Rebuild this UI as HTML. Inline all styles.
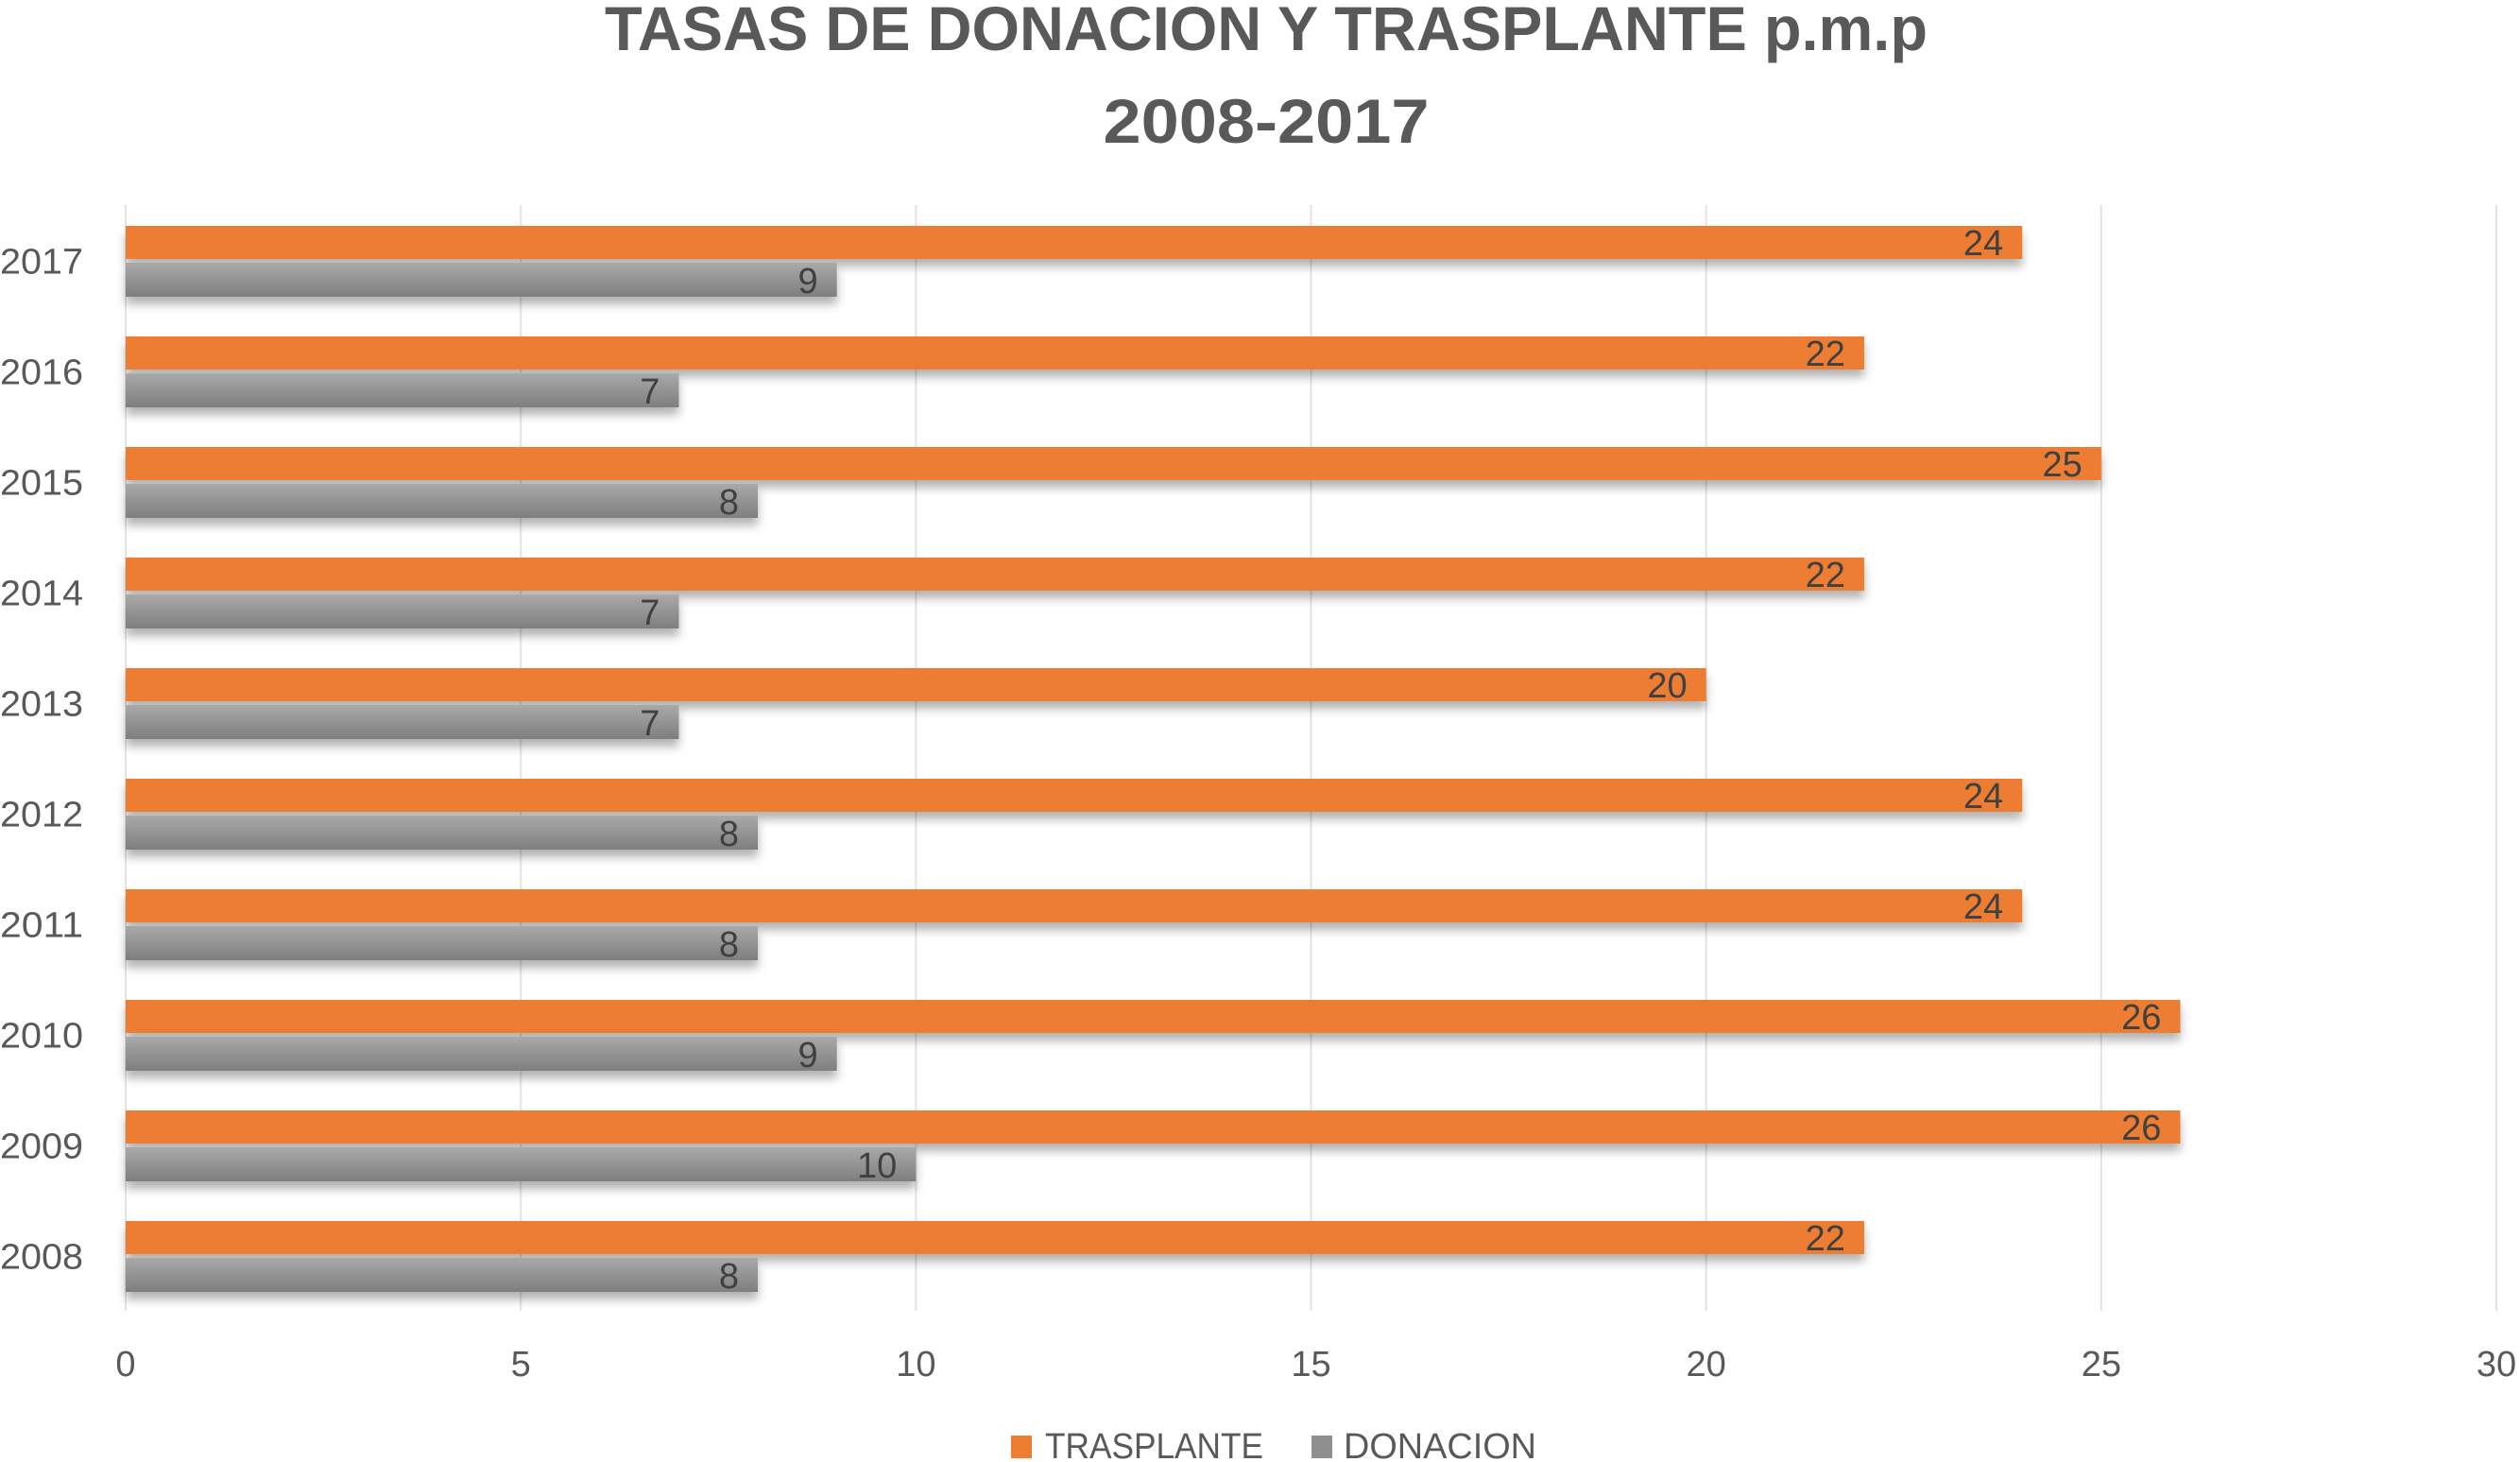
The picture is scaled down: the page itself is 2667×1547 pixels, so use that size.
<!DOCTYPE html>
<html><head><meta charset="utf-8"><style>
html,body{margin:0;padding:0;background:#fff}
svg{display:block;font-family:"Liberation Sans",sans-serif}
</style></head><body>
<svg id="chart" width="2667" height="1547" viewBox="0 0 2667 1547" xmlns="http://www.w3.org/2000/svg">
<defs>
<linearGradient id="gg" x1="0" y1="0" x2="0" y2="1"><stop offset="0" stop-color="#a9a9a9"/><stop offset="1" stop-color="#7e7e7e"/></linearGradient>
<filter id="sh" x="-5%" y="-30%" width="110%" height="180%"><feDropShadow dx="0" dy="8" stdDeviation="5" flood-color="#000" flood-opacity="0.3"/></filter>
</defs>
<text x="1340" y="53" text-anchor="middle" font-size="66" font-weight="bold" fill="#595959" textLength="1400" lengthAdjust="spacingAndGlyphs">TASAS DE DONACION Y TRASPLANTE p.m.p</text>
<text x="1340" y="151" text-anchor="middle" font-size="66" font-weight="bold" fill="#595959" textLength="345" lengthAdjust="spacingAndGlyphs">2008-2017</text>
<g id="grid"></g><g id="bars"></g><g id="labels"></g>
<g>
<rect x="1070" y="1519" width="22" height="24" fill="#ED7D31"/>
<text x="1106" y="1543" font-size="38" fill="#595959" textLength="231" lengthAdjust="spacingAndGlyphs">TRASPLANTE</text>
<rect x="1388" y="1519" width="22" height="24" fill="#8f8f8f"/>
<text x="1422" y="1543" font-size="38" fill="#595959" textLength="204" lengthAdjust="spacingAndGlyphs">DONACION</text>
</g>
</svg>
<script>
const years = ["2017","2016","2015","2014","2013","2012","2011","2010","2009","2008"];
const trasplante = [24,22,25,22,20,24,24,26,26,22];
const donacion = [9,7,8,7,7,8,8,9,10,8];
const ticks = [0,5,10,15,20,25,30];
const NS="http://www.w3.org/2000/svg";
const X0=133,X1=2642,XMAX=30,TOP=217,BOT=1387;
const band=(BOT-TOP)/years.length;
const x=v=>X0+(X1-X0)*v/XMAX;
function mk(t,a,p){const e=document.createElementNS(NS,t);for(const k in a)e.setAttribute(k,a[k]);p.appendChild(e);return e;}
const grid=document.getElementById('grid'),bars=document.getElementById('bars'),labels=document.getElementById('labels');
ticks.forEach(t=>{
  const l=mk('line',{x1:x(t),x2:x(t),y1:TOP,y2:BOT,stroke:'#e3e3e3','stroke-width':2},grid);
  
  
  const tx=mk('text',{x:x(t),y:1456,'text-anchor':'middle','font-size':38,fill:'#595959'},labels);
  tx.textContent=t;
  
  
});
years.forEach((yr,i)=>{
  const b=TOP+band*i;
  const yl=mk('text',{x:0,y:b+band/2+14,'font-size':38,fill:'#595959',textLength:88,lengthAdjust:'spacingAndGlyphs'},labels);
  yl.textContent=yr;
  
  
  const ro=mk('rect',{x:X0,y:b+22,width:x(trasplante[i])-X0,height:35,fill:'#ED7D31',filter:'url(#sh)'},bars);
  
  
  const rg=mk('rect',{x:X0,y:b+61,width:x(donacion[i])-X0,height:36,fill:'url(#gg)',filter:'url(#sh)'},bars);
  
  
  const to=mk('text',{x:x(trasplante[i])-20,y:b+53,'text-anchor':'end','font-size':38,fill:'#404040'},labels);
  to.textContent=trasplante[i];
  
  
  const tg=mk('text',{x:x(donacion[i])-20,y:b+93,'text-anchor':'end','font-size':38,fill:'#404040'},labels);
  tg.textContent=donacion[i];
  
  
});
</script>
</body></html>
